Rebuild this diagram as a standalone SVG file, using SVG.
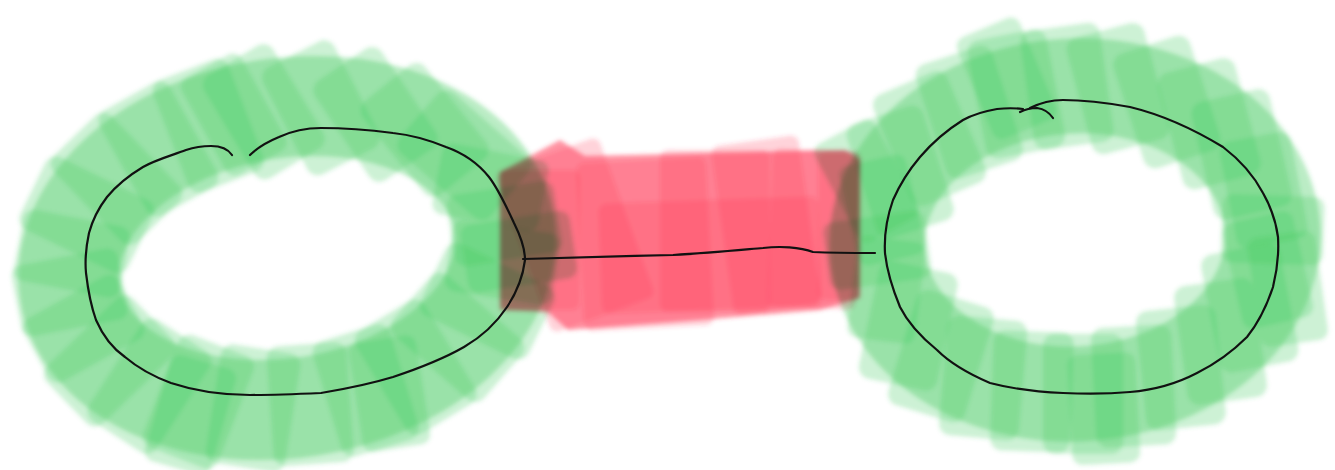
<svg xmlns="http://www.w3.org/2000/svg" xmlns:xlink="http://www.w3.org/1999/xlink" width="1335" height="470" viewBox="0 0 1335 470">
<defs>
<filter id="soft" x="-10%" y="-10%" width="120%" height="120%"><feGaussianBlur stdDeviation="2.2"/></filter>
<rect id="gs" x="-40" y="-60" width="80" height="120" rx="12"/>
<rect id="gs2" x="-34" y="-55" width="68" height="110" rx="10"/>
</defs>
<style>
.gbase{fill:none;stroke:#3cc85a;stroke-opacity:0.35}
.gst{fill:#3cc85a;fill-opacity:0.26}
.red{fill:#ff3c57;fill-opacity:0.22}
.redbase{fill:#ff3c57;fill-opacity:0.55}
.ink{fill:none;stroke:#111;stroke-width:2.2;stroke-linecap:round;stroke-linejoin:round}
</style>
<rect width="1335" height="470" fill="#fff"/>

<g id="node-left" filter="url(#soft)">
<g transform="translate(287,258) rotate(-9)">
<ellipse class="gbase" cx="0" cy="0" rx="220" ry="150" stroke-width="100"/>
<g class="gst">
<use href="#gs" transform="translate(220,0) rotate(-90) scale(0.9)"/>
<use href="#gs" transform="translate(212,38) rotate(-72) scale(0.9)"/>
<use href="#gs" transform="translate(191,74) rotate(-55)"/>
<use href="#gs" transform="translate(156,105) rotate(-40)"/>
<use href="#gs" transform="translate(110,128) rotate(-22)"/>
<use href="#gs" transform="translate(57,143) rotate(-8)"/>
<use href="#gs" transform="translate(0,148) rotate(5)"/>
<use href="#gs" transform="translate(-57,143) rotate(18)"/>
<use href="#gs" transform="translate(-110,128) rotate(30)"/>
<use href="#gs" transform="translate(-156,105) rotate(42)"/>
<use href="#gs" transform="translate(-191,74) rotate(55)"/>
<use href="#gs" transform="translate(-212,38) rotate(70) scale(0.9)"/>
<use href="#gs" transform="translate(-220,0) rotate(88) scale(0.9)"/>
<use href="#gs" transform="translate(-212,-38) rotate(-70) scale(0.9)"/>
<use href="#gs" transform="translate(-191,-74) rotate(-55)"/>
<use href="#gs" transform="translate(-156,-105) rotate(-35)"/>
<use href="#gs" transform="translate(-110,-128) rotate(-20)"/>
<use href="#gs" transform="translate(-57,-143) rotate(-12)"/>
<use href="#gs" transform="translate(0,-148) rotate(-22)"/>
<use href="#gs" transform="translate(57,-143) rotate(-18)"/>
<use href="#gs" transform="translate(110,-128) rotate(-25)"/>
<use href="#gs" transform="translate(156,-105) rotate(-30)"/>
<use href="#gs" transform="translate(191,-74) rotate(-40)"/>
<use href="#gs" transform="translate(212,-38) rotate(-70) scale(0.9)"/>
<use href="#gs2" transform="translate(-30,-150) rotate(-20)"/>
<use href="#gs2" transform="translate(-120,140) rotate(25)"/>
<use href="#gs2" transform="translate(80,150) rotate(0)"/>
<use href="#gs2" transform="translate(230,30) rotate(90)"/>
</g>
</g>
</g>

<g id="node-right" filter="url(#soft)">
<g transform="translate(1075,240) rotate(-3)">
<ellipse class="gbase" cx="0" cy="0" rx="198" ry="154" stroke-width="95"/>
<g class="gst">
<use href="#gs" transform="translate(198,0) rotate(-85) scale(0.85)"/>
<use href="#gs" transform="translate(191,40) rotate(-10) scale(0.9)"/>
<use href="#gs" transform="translate(171,77) rotate(-8)"/>
<use href="#gs" transform="translate(140,109) rotate(-5)"/>
<use href="#gs" transform="translate(99,133) rotate(-3)"/>
<use href="#gs" transform="translate(51,149) rotate(0)"/>
<use href="#gs" transform="translate(0,154) rotate(3)"/>
<use href="#gs" transform="translate(-51,149) rotate(5)"/>
<use href="#gs" transform="translate(-99,133) rotate(8)"/>
<use href="#gs" transform="translate(-140,109) rotate(20)"/>
<use href="#gs" transform="translate(-171,77) rotate(15)"/>
<use href="#gs" transform="translate(-191,40) rotate(10) scale(0.85)"/>
<use href="#gs" transform="translate(-198,0) rotate(85) scale(0.85)"/>
<use href="#gs" transform="translate(-191,-40) rotate(-10) scale(0.85)"/>
<use href="#gs" transform="translate(-171,-77) rotate(-15)"/>
<use href="#gs" transform="translate(-140,-109) rotate(-20)"/>
<use href="#gs" transform="translate(-99,-133) rotate(-15)"/>
<use href="#gs" transform="translate(-51,-149) rotate(-8)"/>
<use href="#gs" transform="translate(0,-154) rotate(-5)"/>
<use href="#gs" transform="translate(51,-149) rotate(-12)"/>
<use href="#gs" transform="translate(99,-133) rotate(-15)"/>
<use href="#gs" transform="translate(140,-109) rotate(-12)"/>
<use href="#gs" transform="translate(171,-77) rotate(-10)"/>
<use href="#gs" transform="translate(191,-40) rotate(-8) scale(0.9)"/>
<use href="#gs2" transform="translate(-60,-165) rotate(-20)"/>
<use href="#gs2" transform="translate(210,60) rotate(-5)"/>
<use href="#gs2" transform="translate(20,170) rotate(0)"/>
<use href="#gs2" transform="translate(-205,-70) rotate(-25)"/>
</g>
</g>
</g>

<g id="edge-highlight" filter="url(#soft)" style="mix-blend-mode:multiply">
<path class="redbase" d="M500,172 L560,140 L585,156 L845,150 L860,160 L860,298 L820,310 L700,320 L568,330 L548,312 L500,310 Z"/>
<g class="red">
<rect x="520" y="150" width="110" height="170" rx="8" transform="rotate(-20 575 235)"/>
<rect x="500" y="170" width="80" height="140" rx="8"/>
<rect x="580" y="160" width="130" height="168" rx="8" transform="rotate(-3 645 244)"/>
<rect x="660" y="150" width="110" height="162" rx="8"/>
<rect x="722" y="140" width="88" height="170" rx="8" transform="rotate(-8 766 225)"/>
<rect x="770" y="150" width="88" height="158" rx="8" transform="rotate(2 814 229)"/>
<rect x="818" y="152" width="42" height="148" rx="8"/>
<rect x="600" y="200" width="220" height="110" rx="8" transform="rotate(-2 710 255)"/>
</g>
</g>

<g id="connectors">
<path class="ink" d="M523,259 C560,258 620,256 673,255 C710,253 740,250 763,248 C780,246 800,247 813,252 C835,253 860,253 875,253"/>
</g>

<g id="ink-left">
<path class="ink" d="M232,155 C228,149 220,146 211,146 C200,146 195,147 186,150 C170,156 155,160 143,167 C128,176 116,186 107,197 C97,210 92,222 89,233 C86,247 85,262 86,273 C88,290 91,306 96,320 C103,336 112,348 125,357 C138,368 152,376 171,383 C195,391 222,395 250,395 C275,395 298,394 321,393 C345,389 370,384 393,377 C420,368 443,359 464,347 C483,336 497,322 507,307 C517,292 523,276 525,260 C525,247 520,235 514,223 C506,206 499,190 489,177 C477,162 463,153 446,147 C429,140 412,135 393,133 C370,130 345,128 321,128 C305,128 292,131 279,137 C267,142 257,148 250,155"/>
</g>

<g id="ink-right">
<path class="ink" d="M1020,112 C1026,109 1031,108 1037,108 C1044,109 1049,112 1053,118"/>
<path class="ink" d="M1030,108 C1040,103 1052,100 1063,100 C1087,100 1108,103 1130,107 C1163,115 1195,130 1223,147 C1240,160 1254,176 1263,193 C1271,207 1276,222 1278,237 C1279,254 1277,271 1273,287 C1267,305 1259,322 1247,337 C1232,352 1215,364 1197,373 C1176,384 1154,390 1130,392 C1108,394 1085,394 1063,393 C1038,392 1013,389 990,383 C969,374 951,364 937,350 C921,337 908,323 900,307 C893,290 887,272 885,253 C884,235 887,217 893,200 C900,184 909,170 920,157 C932,143 947,130 963,120 C974,114 985,111 997,109 C1006,108 1015,108 1023,109"/>
</g>
</svg>
